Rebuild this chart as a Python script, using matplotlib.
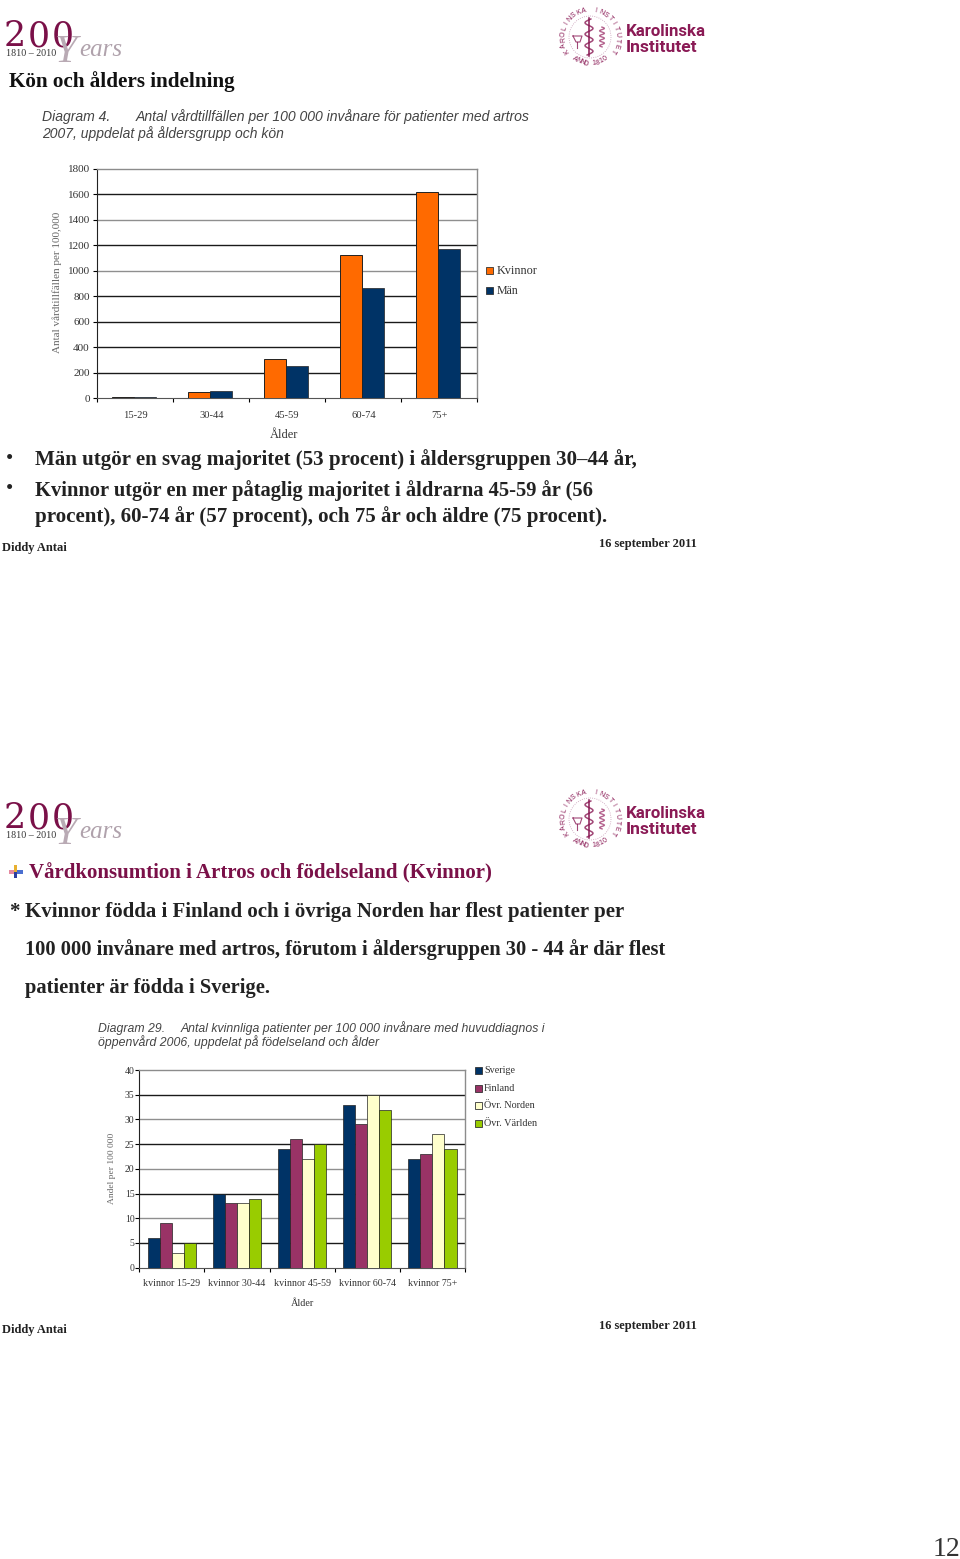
import numpy as np
import matplotlib
matplotlib.use('Agg')
import matplotlib.pyplot as plt
from matplotlib.patches import Circle, Rectangle

# chart 1
ages1 = ['15-29', '30-44', '45-59', '60-74', '75+']
kvinnor = [8, 45, 310, 1125, 1620]
man = [8, 55, 250, 865, 1175]
yticks1 = [0, 200, 400, 600, 800, 1000, 1200, 1400, 1600, 1800]
dark1 = [200, 400, 600, 800, 1200, 1600]

# chart 2
ages2 = ['kvinnor 15-29', 'kvinnor 30-44', 'kvinnor 45-59', 'kvinnor 60-74', 'kvinnor 75+']
sverige = [6, 15, 24, 33, 22]
finland = [9, 13, 26, 29, 23]
ovr_norden = [3, 13, 22, 35, 27]
ovr_varlden = [5, 14, 25, 32, 24]
yticks2 = [0, 5, 10, 15, 20, 25, 30, 35, 40]
dark2 = [5, 15, 25, 35]

W, H = 960, 1559
SERIF = ['Liberation Serif', 'DejaVu Serif']
SANS = ['Liberation Sans', 'DejaVu Sans']
MAROON = '#8a1a55'

fig = plt.figure(figsize=(W / 100, H / 100), dpi=100, facecolor='white')
bg = fig.add_axes([0, 0, 1, 1])
bg.set_xlim(0, W)
bg.set_ylim(H, 0)
bg.axis('off')


def px_axes(left, top, right, bottom):
    return fig.add_axes([left / W, 1 - bottom / H, (right - left) / W, (bottom - top) / H])


def logos(dy):
    # 200 years, digits spaced out by hand
    for x, ch in [(4, '2'), (28, '0'), (52, '0')]:
        bg.text(x, 46 + dy, ch, family='DejaVu Serif', fontsize=25, color='#7a1048', va='baseline')
    bg.text(6, 56 + dy, '1810 – 2010', family=SERIF, fontsize=7.2, color='#333333', va='baseline')
    bg.text(55, 62 + dy, 'Y', family=SERIF, style='italic', fontsize=29, color='#b9aab4', va='baseline')
    bg.text(79, 56 + dy, 'ears', family=SERIF, style='italic', fontsize=18, color='#b0a2ac', va='baseline')
    # seal
    cx, cy = 590, 37 + dy
    for i, ch in enumerate('KAROLINSKA INSTITUTET'):
        a = 150 + i * 12
        r = np.radians(a)
        bg.text(cx + 27 * np.cos(r), cy + 27 * np.sin(r), ch, family=SANS, fontsize=5, color=MAROON,
                ha='center', va='center', rotation=270 - a)
    for i, ch in enumerate('ANNO 1810'):
        a = 125 - i * 8.75
        r = np.radians(a)
        bg.text(cx + 27 * np.cos(r), cy + 27 * np.sin(r), ch, family=SANS, fontsize=5, color=MAROON,
                ha='center', va='center', rotation=90 - a)
    bg.add_patch(Circle((cx, cy), 21, fill=False, ec='#c79ab5', lw=0.6, ls=':'))
    # staff and snake of the seal
    t = np.linspace(-18, 18, 60)
    bg.plot([cx - 1, cx - 1], [cy - 19, cy + 19], color=MAROON, lw=1.1)
    bg.plot(cx - 1 + 4 * np.sin(t * 0.55), cy + t, color=MAROON, lw=1.1, alpha=0.8)
    # bowl left, serpent right
    bg.plot([cx - 17, cx - 14, cx - 10, cx - 8, cx - 17], [cy - 1, cy + 5, cy + 5, cy - 1, cy - 1],
            color=MAROON, lw=0.8, alpha=0.8)
    bg.plot([cx - 13, cx - 13], [cy + 5, cy + 11], color=MAROON, lw=0.8, alpha=0.8)
    bg.plot(cx + 12 + 3 * np.sin(t * 0.7) * 0.8, cy + t * 0.55, color='#b5648f', lw=1.0)
    bg.text(626, 36 + dy, 'Karolinska', family='Roboto', weight='bold', fontsize=12.2, color=MAROON, va='baseline')
    bg.text(626, 52 + dy, 'Institutet', family='Roboto', weight='bold', fontsize=12.6, color=MAROON, va='baseline')


def footer(dy):
    bg.text(2, 551 + dy, 'Diddy Antai', family=SERIF, weight='bold', fontsize=9, color='#222222', va='baseline')
    bg.text(599, 547 + dy, '16 september 2011', family=SERIF, weight='bold', fontsize=9, color='#222222', va='baseline')


def style_axes(ax, yticks, dark, ymax, ysize, ypad):
    ax.set_ylim(0, ymax)
    ax.set_yticks(yticks)
    for s in ['top', 'right']:
        ax.spines[s].set_color('#8c8c8c')
        ax.spines[s].set_linewidth(1)
    ax.spines['left'].set_color('#222222')
    ax.spines['bottom'].set_color('#555555')
    for v in yticks[1:-1]:
        if v in dark:
            ax.axhline(v, color='#1a1a1a', lw=1, zorder=1)
        else:
            ax.axhline(v, color='#8f8f8f', lw=1, zorder=1)
    ax.tick_params(axis='y', length=3, width=0.8, labelsize=ysize, labelcolor='#333333', pad=ypad)
    ax.set_xlim(0, 5)
    ax.set_xticks(range(6))
    ax.set_xticklabels([])
    ax.tick_params(axis='x', length=3, width=0.8, direction='out')
    for lab in ax.get_yticklabels():
        lab.set_fontfamily(SERIF)


def legend_box(x, y, color, label, off, size):
    bg.add_patch(Rectangle((x, y), 7, 7, fc=color, ec='#333333', lw=0.6))
    bg.text(x + off, y + 3.5, label, family=SERIF, fontsize=size, color='#333333', va='center')


# slide 1 ---------------------------------------------------------------
logos(0)
bg.text(9, 87, 'Kön och ålders indelning', family=SERIF, weight='bold', fontsize=15.2, color='#111111', va='baseline')
bg.text(42, 121, 'Diagram 4.', family=SANS, style='italic', fontsize=10.1, color='#444444', va='baseline')
bg.text(136, 121, 'Antal vårdtillfällen per 100 000 invånare för patienter med artros', family=SANS,
        style='italic', fontsize=10.1, color='#444444', va='baseline')
bg.text(42, 138, '2007, uppdelat på åldersgrupp och kön', family=SANS, style='italic', fontsize=10,
        color='#444444', va='baseline')

ax1 = px_axes(96.7, 169, 476.7, 398)
style_axes(ax1, yticks1, dark1, 1800, 8, 2)
x1 = np.arange(5)
ax1.bar(x1 + 0.49 - 0.145, kvinnor, 0.29, color='#ff6a00', edgecolor='#222222', lw=0.7, zorder=3)
ax1.bar(x1 + 0.49 + 0.145, man, 0.29, color='#003366', edgecolor='#222222', lw=0.5, zorder=3)
for i, lab in enumerate(ages1):
    ax1.text(i + 0.51, -134, lab, family=SERIF, fontsize=7.6, color='#333333', ha='center', va='center')
ax1.text(2.46, -290, 'Ålder', family=SERIF, fontsize=9, color='#333333', ha='center', va='center', clip_on=False)
bg.text(57, 282, 'Antal vårdtillfällen per 100,000', family=SERIF, fontsize=8, color='#666666', rotation=90,
        ha='center', va='center')
legend_box(486, 267, '#ff6a00', 'Kvinnor', 11, 8.8)
legend_box(486, 287, '#003366', 'Män', 11, 8.6)

for y, line, size in [(465, 'Män utgör en svag majoritet (53 procent) i åldersgruppen 30–44 år,', 15.1),
                      (496, 'Kvinnor utgör en mer påtaglig majoritet i åldrarna 45-59 år (56', 14.8),
                      (522, 'procent), 60-74 år (57 procent), och 75 år och äldre (75 procent).', 15.1)]:
    bg.text(35, y, line, family=SERIF, weight='bold', fontsize=size, color='#222222', va='baseline')
bg.text(6, 464, '•', family=SERIF, fontsize=15, color='#222222', va='baseline')
bg.text(6, 494, '•', family=SERIF, fontsize=15, color='#222222', va='baseline')
footer(0)

# slide 2 ---------------------------------------------------------------
logos(782)
bg.add_patch(Rectangle((9, 870), 6, 4, fc='#e58aa0', ec='none'))
bg.add_patch(Rectangle((17, 870), 6, 4, fc='#4a6fd0', ec='none'))
bg.add_patch(Rectangle((14, 865), 3, 7, fc='#e8b030', ec='none'))
bg.add_patch(Rectangle((14, 872), 3, 6, fc='#2c3fa0', ec='none'))
bg.text(29, 878, 'Vårdkonsumtion i Artros och födelseland (Kvinnor)', family=SERIF, weight='bold', fontsize=15,
        color='#7a1048', va='baseline')
bg.text(9, 917, '*', family=SERIF, weight='bold', fontsize=15, color='#222222', va='baseline')
for y, line, size in [(917, 'Kvinnor födda i Finland och i övriga Norden har flest patienter per', 15.05),
                      (955, '100 000 invånare med artros, förutom i åldersgruppen 30 - 44 år där flest', 14.8),
                      (993, 'patienter är födda i Sverige.', 14.8)]:
    bg.text(25, y, line, family=SERIF, weight='bold', fontsize=size, color='#222222', va='baseline')

bg.text(98, 1032, 'Diagram 29.', family=SANS, style='italic', fontsize=8.82, color='#444444', va='baseline')
bg.text(181, 1032, 'Antal kvinnliga patienter per 100 000 invånare med huvuddiagnos i', family=SANS,
        style='italic', fontsize=8.82, color='#444444', va='baseline')
bg.text(98, 1046, 'öppenvård 2006, uppdelat på födelseland och ålder', family=SANS, style='italic', fontsize=8.82,
        color='#444444', va='baseline')

ax2 = px_axes(139.3, 1070, 465, 1267.7)
style_axes(ax2, yticks2, dark2, 40, 7, 0.5)
x2 = np.arange(5)
w = 0.185
for k, (vals, col) in enumerate([(sverige, '#003366'), (finland, '#993366'),
                                 (ovr_norden, '#ffffcc'), (ovr_varlden, '#99cc00')]):
    ax2.bar(x2 + 0.5 + (k - 1.5) * w, vals, w, color=col, edgecolor='#222222', lw=0.5, zorder=3)
for i, lab in enumerate(ages2):
    ax2.text(i + 0.5, -3.1, lab, family=SERIF, fontsize=7.2, color='#333333', ha='center', va='center')
ax2.text(2.5, -7.2, 'Ålder', family=SERIF, fontsize=7.3, color='#333333', ha='center', va='center', clip_on=False)
bg.text(112, 1168, 'Andel per 100 000', family=SERIF, fontsize=6.8, color='#666666', rotation=90,
        ha='center', va='center')
legend_box(475, 1067, '#003366', 'Sverige', 9, 7.3)
legend_box(475, 1085, '#993366', 'Finland', 9, 7.3)
legend_box(475, 1102, '#ffffcc', 'Övr. Norden', 9, 7.3)
legend_box(475, 1120, '#99cc00', 'Övr. Världen', 9, 7.3)
footer(782)

bg.text(946, 1556, '12', family=SERIF, fontsize=20, color='#333333', ha='center', va='baseline')

fig.savefig('out.png', dpi=100)
